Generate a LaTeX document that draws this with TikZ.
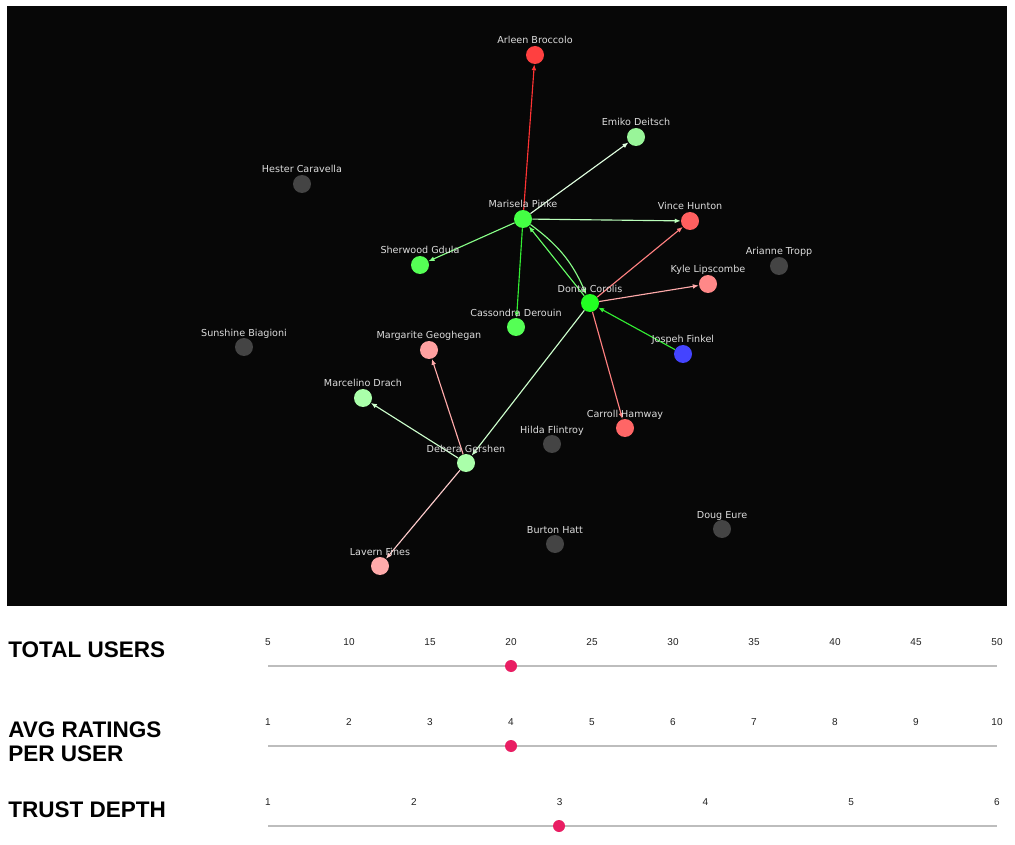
\documentclass[tikz,border=0pt]{standalone}
\usepackage{fontspec}
\setmainfont{Liberation Sans}
\newfontfamily\djv{DejaVu Sans}
\usetikzlibrary{arrows.meta}
\definecolor{panel}{HTML}{070707}
\definecolor{lbl}{HTML}{DDDDDD}
\definecolor{grayn}{HTML}{444444}
\definecolor{cArleen}{HTML}{FF4040}
\definecolor{cEmiko}{HTML}{99F599}
\definecolor{cMarisela}{HTML}{44FF44}
\definecolor{cVince}{HTML}{FF5F5F}
\definecolor{cSherwood}{HTML}{55FF55}
\definecolor{cKyle}{HTML}{FF8888}
\definecolor{cDonte}{HTML}{22FF22}
\definecolor{cCassondra}{HTML}{55FF55}
\definecolor{cMargarite}{HTML}{FFA0A0}
\definecolor{cJospeh}{HTML}{4444FF}
\definecolor{cMarcelino}{HTML}{AAFFAA}
\definecolor{cCarroll}{HTML}{FF6666}
\definecolor{cDebera}{HTML}{AAFFAA}
\definecolor{cLavern}{HTML}{FFAAAA}
\definecolor{eRed}{HTML}{FF3333}
\definecolor{eWhiteGreen}{HTML}{E0FFE0}
\definecolor{ePaleGreen}{HTML}{BBFFBB}
\definecolor{eLightGreen}{HTML}{88FF88}
\definecolor{eGreen}{HTML}{33EE33}
\definecolor{eMidGreen}{HTML}{66FF66}
\definecolor{ePinkRed}{HTML}{FF8080}
\definecolor{ePink}{HTML}{FFAAAA}
\definecolor{eMint}{HTML}{CCFFCC}
\definecolor{eBlush}{HTML}{FFCCCC}
\definecolor{track}{HTML}{BDBDBD}
\definecolor{thumb}{HTML}{E91E63}
\definecolor{ticktext}{HTML}{222222}
\begin{document}
\begin{tikzpicture}[x=0.75pt,y=-0.75pt,
  person/.style={circle, minimum size=13.5pt, inner sep=0pt, draw=none},
  pname/.style={font=\djv\fontsize{7.2}{8}\selectfont, text=lbl, anchor=base, inner sep=0pt},
  rel/.style={line width=0.85pt, -{Latex[length=4.5pt,width=3.6pt]}},
  title/.style={font=\bfseries\fontsize{16.9}{18}\selectfont, anchor=base west, inner sep=0pt, text=black},
  tick/.style={font=\fontsize{7.5}{8}\selectfont, anchor=base, inner sep=0pt, text=ticktext},
  trackline/.style={draw=track, line width=1.9pt},
  knob/.style={circle, fill=thumb, minimum size=9pt, inner sep=0pt}
]
\useasboundingbox (0,0) rectangle (1015,845);
\fill[white] (0,0) rectangle (1015,845);
\fill[panel] (7,6) rectangle (1007,606);

% people
\node[person, fill=cArleen] (arleen) at (535,55) {};
\node[person, fill=cEmiko] (emiko) at (636,137) {};
\node[person, fill=grayn] (hester) at (302,184) {};
\node[person, fill=cMarisela] (marisela) at (523,219) {};
\node[person, fill=cVince] (vince) at (690,221) {};
\node[person, fill=cSherwood] (sherwood) at (420,265) {};
\node[person, fill=grayn] (arianne) at (779,266) {};
\node[person, fill=cKyle] (kyle) at (708,284) {};
\node[person, fill=cDonte] (donte) at (590,303) {};
\node[person, fill=cCassondra] (cassondra) at (516,327) {};
\node[person, fill=grayn] (sunshine) at (244,347) {};
\node[person, fill=cMargarite] (margarite) at (429,350) {};
\node[person, fill=cJospeh] (jospeh) at (683,354) {};
\node[person, fill=cMarcelino] (marcelino) at (363,398) {};
\node[person, fill=cCarroll] (carroll) at (625,428) {};
\node[person, fill=grayn] (hilda) at (552,444) {};
\node[person, fill=cDebera] (debera) at (466,463) {};
\node[person, fill=grayn] (doug) at (722,529) {};
\node[person, fill=grayn] (burton) at (555,544) {};
\node[person, fill=cLavern] (lavern) at (380,566) {};

% relations
\draw[rel, eRed] (marisela) -- (arleen);
\draw[rel, eWhiteGreen] (marisela) -- (emiko);
\draw[rel, ePaleGreen] (marisela) -- (vince);
\draw[rel, eLightGreen] (marisela) -- (sherwood);
\draw[rel, eGreen] (marisela) -- (cassondra);
\draw[rel, eMidGreen] (donte) -- (marisela);
\draw[rel, eLightGreen] (marisela) to[bend left=15] (donte);
\draw[rel, ePinkRed] (donte) -- (vince);
\draw[rel, ePink] (donte) -- (kyle);
\draw[rel, eGreen] (jospeh) -- (donte);
\draw[rel, ePinkRed] (donte) -- (carroll);
\draw[rel, eMint] (donte) -- (debera);
\draw[rel, ePink] (debera) -- (margarite);
\draw[rel, eMint] (debera) -- (marcelino);
\draw[rel, eBlush] (debera) -- (lavern);

% names
\node[pname] (larleen) at (535,44) {Arleen Broccolo};
\node[pname] (lemiko) at (636,126) {Emiko Deitsch};
\node[pname] (lhester) at (302,173) {Hester Caravella};
\node[pname] (lmarisela) at (523,208) {Marisela Pinke};
\node[pname] (lvince) at (690,210) {Vince Hunton};
\node[pname] (lsherwood) at (420,254) {Sherwood Gdula};
\node[pname] (larianne) at (779,255) {Arianne Tropp};
\node[pname] (lkyle) at (708,273) {Kyle Lipscombe};
\node[pname] (ldonte) at (590,292) {Donte Corolis};
\node[pname] (lcassondra) at (516,316) {Cassondra Derouin};
\node[pname] (lsunshine) at (244,336) {Sunshine Biagioni};
\node[pname] (lmargarite) at (429,339) {Margarite Geoghegan};
\node[pname] (ljospeh) at (683,343) {Jospeh Finkel};
\node[pname] (lmarcelino) at (363,387) {Marcelino Drach};
\node[pname] (lcarroll) at (625,417) {Carroll Hamway};
\node[pname] (lhilda) at (552,433) {Hilda Flintroy};
\node[pname] (ldebera) at (466,452) {Debera Gershen};
\node[pname] (ldoug) at (722,518) {Doug Eure};
\node[pname] (lburton) at (555,533) {Burton Hatt};
\node[pname] (llavern) at (380,555) {Lavern Fines};

% controls
\node[title] (tusers) at (8,657) {TOTAL USERS};
\node[title] (tavg1) at (8,737) {AVG RATINGS};
\node[title] (tavg2) at (8,761) {PER USER};
\node[title] (tdepth) at (8,817) {TRUST DEPTH};

\coordinate (s1a) at (268,666); \coordinate (s1b) at (997,666);
\coordinate (s2a) at (268,746); \coordinate (s2b) at (997,746);
\coordinate (s3a) at (268,826); \coordinate (s3b) at (997,826);
\draw[trackline] (s1a) -- (s1b);
\draw[trackline] (s2a) -- (s2b);
\draw[trackline] (s3a) -- (s3b);

\foreach \v [count=\i from 0] in {5,10,15,20,25,30,35,40,45,50}
  \node[tick] (ta\i) at (268+81*\i,645.5) {\v};
\foreach \v [count=\i from 0] in {1,2,3,4,5,6,7,8,9,10}
  \node[tick] (tb\i) at (268+81*\i,725.5) {\v};
\foreach \v [count=\i from 0] in {1,2,3,4,5,6}
  \node[tick] (tc\i) at (268+145.8*\i,805.5) {\v};

\node[knob] (k1) at (511,666) {};
\node[knob] (k2) at (511,746) {};
\node[knob] (k3) at (559,826) {};
\end{tikzpicture}
\end{document}
